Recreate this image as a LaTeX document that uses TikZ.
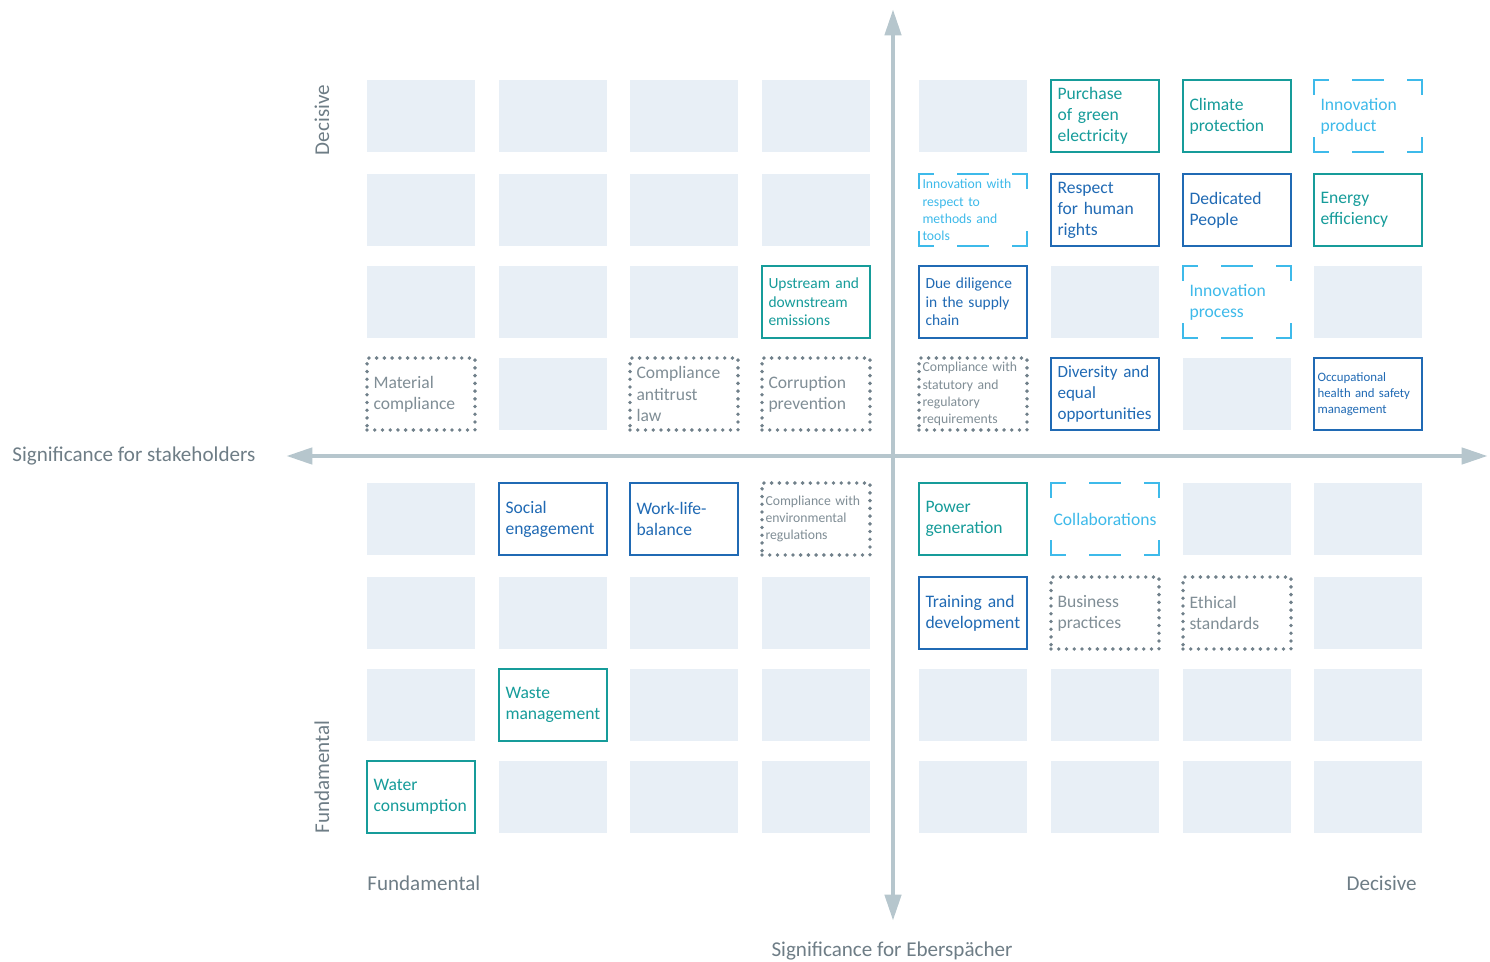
\documentclass[tikz,border=0pt]{standalone}
\usepackage{fontspec}
\setmainfont{Carlito}
\usepackage{tikz}
\usetikzlibrary{arrows.meta}
\definecolor{cellgrey}{RGB}{232,239,246}
\definecolor{matteal}{RGB}{22,156,154}
\definecolor{matblue}{RGB}{32,106,180}
\definecolor{matsky}{RGB}{62,186,234}
\definecolor{matdot}{RGB}{112,128,138}
\definecolor{matgrey}{RGB}{128,142,150}
\definecolor{mataxis}{RGB}{182,198,205}
\definecolor{matlabel}{RGB}{110,125,134}

\begin{document}
\begin{tikzpicture}[x=0.02cm, y=-0.02cm,
    cell/.style={fill=cellgrey, minimum width=2.16cm, minimum height=1.44cm, inner sep=0pt, outer sep=0pt},
    topic/.style={fill=white, minimum width=2.16cm, minimum height=1.44cm, inner xsep=0.13cm, inner ysep=0pt, outer sep=0pt,
        text width=1.9cm, align=left, font=\fontsize{10}{12}\selectfont},
    tealbox/.style={topic, draw=matteal, line width=1.4pt, text=matteal},
    bluebox/.style={topic, draw=matblue, line width=1.4pt, text=matblue},
    dashbox/.style={topic, text=matsky},
    dotbox/.style={topic, draw=matdot, line width=2.2pt, line cap=round, dash pattern=on 0pt off 4.4pt, text=matgrey},
    dashtop/.style={draw=matsky, line width=1.4pt, line cap=rect, dash pattern=on 0.28cm off 0.5cm on 0.6cm off 0.5cm on 0.28cm off 1cm},
    dashside/.style={draw=matsky, line width=1.4pt, line cap=rect, dash pattern=on 0.28cm off 0.88cm on 0.28cm off 1cm},
    txtsm/.style={font=\fontsize{8.8}{10.6}\selectfont},
    txtxs/.style={font=\fontsize{7.8}{9.8}\selectfont, inner xsep=0.07cm, text width=2.02cm},
    txtxxs/.style={font=\fontsize{7.3}{9}\selectfont, inner xsep=0.07cm, text width=2.02cm},
    axis/.style={draw=mataxis, line width=2.8pt, arrows={Triangle[length=15pt,width=9pt]-Triangle[length=15pt,width=9pt]}},
    axislabel/.style={text=matlabel, font=\fontsize{12}{14}\selectfont, inner sep=0pt}]
    %% Background
    \useasboundingbox (0,0) rectangle (1490,962);
    %% Coordinate
    \coordinate (xleft) at (286,456);
    \coordinate (xright) at (1488,456);
    \coordinate (ytop) at (893,9);
    \coordinate (ybottom) at (893,921);
    \draw[axis] (xleft) to (xright);
    \draw[axis] (ybottom) to (ytop);
    \node[axislabel, anchor=west] (stakeholders) at (12,456) {Significance for stakeholders};
    \node[axislabel] (eberspaecher) at (892,951) {Significance for Eberspächer};
    \node[axislabel, anchor=west] (fundx) at (367,883) {Fundamental};
    \node[axislabel, anchor=east] (decix) at (1417,883) {Decisive};
    \node[axislabel, rotate=90] (deciy) at (322,120) {Decisive};
    \node[axislabel, rotate=90] (fundy) at (322,777) {Fundamental};
    %% Grid
    \foreach \cx [count=\i] in {421,553,684,816,973,1105,1237,1368}
        \foreach \cy [count=\j] in {116,210,302,394,519,613,705,797}
            \node[cell] (c\i\j) at (\cx,\cy) {};
    %% Topics
    \node[tealbox] (greenpower) at (c61) {Purchase\\of green\\electricity};
    \node[tealbox] (climate) at (c71) {Climate\\protection};
    \node[dashbox] (innoproduct) at (c81) {Innovation\\product};
    \node[dashbox, txtxs] (innomethods) at (c52) {Innovation with\\respect to\\methods and\\tools};
    \node[bluebox] (humanrights) at (c62) {Respect\\for human\\rights};
    \node[bluebox] (people) at (c72) {Dedicated\\People};
    \node[tealbox] (energy) at (c82) {Energy\\efficiency};
    \node[tealbox, txtsm] (emissions) at (c43) {Upstream and\\downstream\\emissions};
    \node[bluebox, txtsm] (diligence) at (c53) {Due diligence\\in the supply\\chain};
    \node[dashbox] (innoprocess) at (c73) {Innovation\\process};
    \node[dotbox] (material) at (c14) {Material\\compliance};
    \node[dotbox] (antitrust) at (c34) {Compliance\\antitrust\\law};
    \node[dotbox] (corruption) at (c44) {Corruption\\prevention};
    \node[dotbox, txtxs] (statutory) at (c54) {Compliance with\\statutory and\\regulatory\\requirements};
    \node[bluebox, font=\fontsize{9.7}{12}\selectfont] (diversity) at (c64) {Diversity and\\equal\\opportunities};
    \node[bluebox, txtxxs] (safety) at (c84) {Occupational\\health and safety\\management};
    \node[bluebox] (social) at (c25) {Social\\engagement};
    \node[bluebox] (worklife) at (c35) {Work-life-\\balance};
    \node[dotbox, txtxs] (environment) at (c45) {Compliance with\\environmental\\regulations};
    \node[tealbox] (powergen) at (c55) {Power\\generation};
    \node[dashbox, align=center, inner xsep=0pt, text width=2.16cm] (collab) at (c65) {Collaborations};
    \node[bluebox] (training) at (c56) {Training and\\development};
    \node[dotbox] (business) at (c66) {Business\\practices};
    \node[dotbox] (ethics) at (c76) {Ethical\\standards};
    \node[tealbox] (waste) at (c27) {Waste\\management};
    \node[tealbox] (water) at (c18) {Water\\consumption};
    %% Dashed frames
    \foreach \n in {innoproduct,innomethods,innoprocess,collab} {
        \draw[dashtop] (\n.north west) to (\n.north east);
        \draw[dashtop] (\n.south west) to (\n.south east);
        \draw[dashside] (\n.north west) to (\n.south west);
        \draw[dashside] (\n.north east) to (\n.south east);
    }
\end{tikzpicture}
\end{document}
